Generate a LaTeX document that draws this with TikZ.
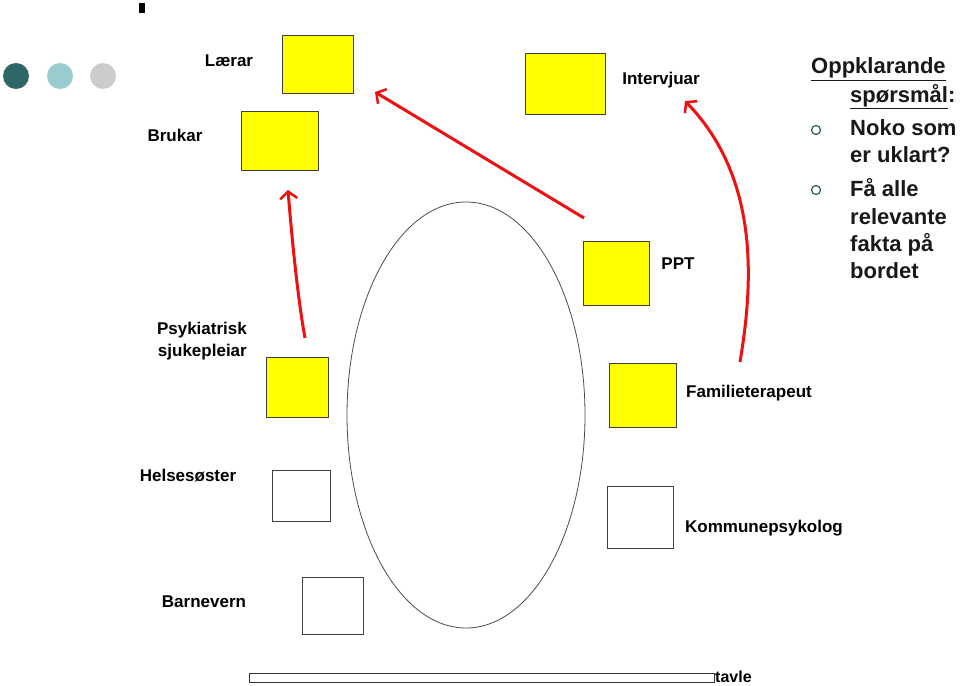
\documentclass[tikz,border=0pt]{standalone}
\usepackage{fontspec}
\setmainfont{Liberation Sans}
\usetikzlibrary{arrows.meta}
\definecolor{darkteal}{HTML}{2F6767}
\definecolor{lightteal}{HTML}{99CCCC}
\definecolor{lightgray}{HTML}{CCCCCC}
\definecolor{boxyellow}{HTML}{FFFF00}
\definecolor{arrowred}{HTML}{EE1111}
\begin{document}
\begin{tikzpicture}[x=1pt,y=-1pt,
  seat/.style={draw=black!75, line width=0.9pt, inner sep=0pt},
  yseat/.style={seat, fill=boxyellow},
  wseat/.style={seat, fill=white},
  lbl/.style={font=\fontsize{17}{20}\selectfont\bfseries, inner sep=0pt},
  side/.style={font=\fontsize{22}{27}\selectfont\bfseries, inner sep=0pt, anchor=base west, text=black!90},
  redarrow/.style={draw=arrowred, line width=3pt, -{Straight Barb[length=7pt,width=17pt,line width=2.5pt]}},
  dot/.style={circle, inner sep=0pt, minimum size=26pt},
  bul/.style={circle, draw=darkteal, line width=1.3pt, inner sep=0pt, minimum size=9pt}
]
\useasboundingbox (0,0) rectangle (960,685);

% top mark
\fill[black] (139,3) rectangle (145,13);

% decorative circles
\node[dot, fill=darkteal] (c1) at (16,76) {};
\node[dot, fill=lightteal] (c2) at (60,76) {};
\node[dot, fill=lightgray] (c3) at (103,76) {};

% table
\draw[black!70, line width=0.8pt] (466,415) ellipse [x radius=119, y radius=213];

% seats
\node[yseat, minimum width=71pt, minimum height=58pt] (laerar) at (317.5,64) {};
\node[yseat, minimum width=77pt, minimum height=59pt] (brukar) at (279.5,140.5) {};
\node[yseat, minimum width=80pt, minimum height=61pt] (interv) at (565,83.5) {};
\node[yseat, minimum width=66pt, minimum height=64pt] (ppt) at (616,273) {};
\node[yseat, minimum width=62pt, minimum height=60pt] (psyk) at (297,387) {};
\node[wseat, minimum width=58pt, minimum height=51pt] (helse) at (301,495.5) {};
\node[wseat, minimum width=61pt, minimum height=57pt] (barne) at (332.5,605.5) {};
\node[yseat, minimum width=67pt, minimum height=64pt] (famil) at (642.5,395) {};
\node[wseat, minimum width=66pt, minimum height=62pt] (kommu) at (640,517) {};

% labels
\node[lbl] (tlaerar) at (229,61) {Lærar};
\node[lbl] (tbrukar) at (175,135) {Brukar};
\node[lbl] (tinterv) at (661,80) {Intervjuar};
\node[lbl] (tppt) at (678,264) {PPT};
\node[lbl, align=right, anchor=east, font=\fontsize{17}{22}\selectfont\bfseries] (tpsyk) at (247,341) {Psykiatrisk\\sjukepleiar};
\node[lbl] (thelse) at (188,476) {Helsesøster};
\node[lbl] (tbarne) at (204,602) {Barnevern};
\node[lbl] (tfamil) at (749,393) {Familieterapeut};
\node[lbl] (tkommu) at (764,528) {Kommunepsykolog};

% board
\node[draw=black!80, line width=0.8pt, inner sep=0pt, minimum width=465pt, minimum height=9pt] (tavle) at (481.5,677.5) {};
\node[lbl, anchor=base west, font=\fontsize{16}{18}\selectfont\bfseries] (ttavle) at (715,682) {tavle};

% red arrows
\coordinate (a1s) at (305,338);
\coordinate (a1e) at (288,190);
\coordinate (a2s) at (584,218);
\coordinate (a2e) at (375,92);
\coordinate (a3s) at (740,362);
\coordinate (a3e) at (685,101);
\draw[redarrow] (a1s) .. controls (298,300) and (292,240) .. (a1e);
\draw[redarrow] (a2s) -- (a2e);
\draw[redarrow] (a3s) .. controls (752,290) and (762,180) .. (a3e);

% side text
\node[side] (h1) at (811,74) {\underline{Oppklarande}};
\node[side] (h2) at (850,102) {\underline{spørsmål}:};
\node[bul] (b1) at (816,130) {};
\node[side] (s1) at (850,135) {Noko som};
\node[side] (s2) at (850,162) {er uklart?};
\node[bul] (b2) at (816,190) {};
\node[side] (s3) at (850,196) {Få alle};
\node[side] (s4) at (850,224) {relevante};
\node[side] (s5) at (850,251) {fakta på};
\node[side] (s6) at (850,278) {bordet};
\end{tikzpicture}
\end{document}
